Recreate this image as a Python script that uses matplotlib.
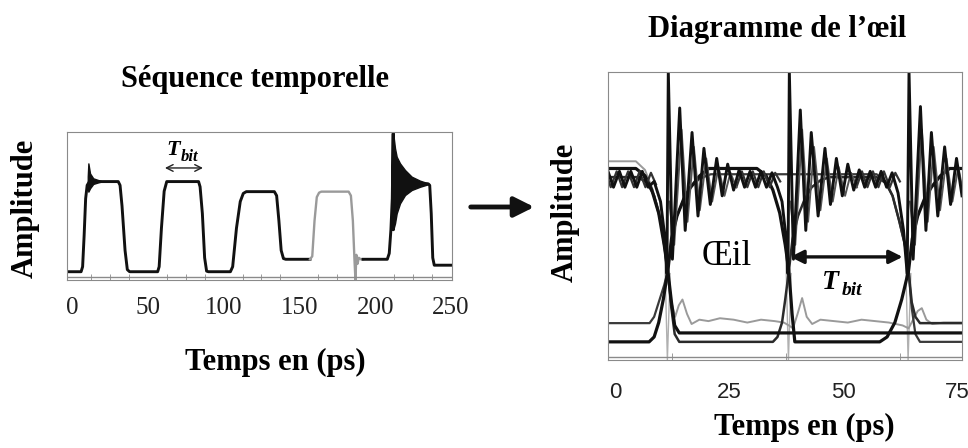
import numpy as np
import matplotlib
matplotlib.use("Agg")
import matplotlib.pyplot as plt
from matplotlib.ticker import FixedLocator, MultipleLocator

# ---------------- left panel: time sequence (ps, arbitrary amplitude 0..1)
seq_ticks = [0, 50, 100, 150, 200, 250]

seq_t = [-3.3, 6.0, 7.0, 8.0, 9.0, 10.0, 11.5, 30.5, 31.7, 33.0, 35.0, 36.5, 38.0,
         56.5, 57.5, 59.0, 60.8, 62.5, 83.5, 84.5, 86.0, 87.5, 88.8, 90.0,
         104.5, 106.0, 108.5, 111.0, 113.0, 115.0, 133.5, 135.0, 136.5, 138.0,
         139.5, 141.0, 157.0]
seq_amp = [0.056, 0.056, 0.09, 0.30, 0.55, 0.64, 0.665, 0.665, 0.64, 0.50, 0.20, 0.07, 0.056,
           0.056, 0.09, 0.35, 0.60, 0.665, 0.665, 0.63, 0.45, 0.15, 0.06, 0.056,
           0.056, 0.09, 0.35, 0.53, 0.585, 0.597, 0.597, 0.57, 0.40, 0.20,
           0.145, 0.14, 0.14]

seq_gray_t = [157.0, 158.5, 160.0, 161.5, 163.0, 164.5, 182.5, 184.0, 185.3, 186.3,
              187.0, 187.6, 188.4, 189.2, 190.5, 192.0]
seq_gray_amp = [0.14, 0.16, 0.40, 0.56, 0.59, 0.597, 0.597, 0.57, 0.40, 0.15,
                0.0, 0.17, 0.11, 0.15, 0.14, 0.14]

seq_end_t = [192.0, 208.0, 209.3, 210.4, 211.3, 211.9, 211.9, 213.1, 214.2, 216.4,
             219.7, 224.1, 229.6, 235.0, 236.0, 237.0, 238.0, 239.0, 250.7]
seq_end_amp = [0.14, 0.14, 0.18, 0.34, 0.55, 0.99, 0.34, 0.60, 0.62, 0.64,
               0.65, 0.65, 0.65, 0.65, 0.64, 0.45, 0.15, 0.10, 0.10]

# ringing envelopes (filled black)
ring1_t = [10.4, 10.8, 11.9, 14.0, 17.4, 19.5]
ring1_hi = [0.70, 0.788, 0.72, 0.687, 0.675, 0.668]
ring1_lo = [0.62, 0.597, 0.62, 0.649, 0.66, 0.665]
ring2_t = [211.9, 213.1, 214.2, 216.4, 219.7, 224.1, 229.6, 235.0]
ring2_hi = [0.991, 0.89, 0.833, 0.788, 0.743, 0.698, 0.671, 0.653]
ring2_lo = [0.338, 0.383, 0.45, 0.518, 0.574, 0.608, 0.63, 0.647]

# ---------------- right panel: eye diagram
eye_ticks = [0, 25, 50, 75]

eye1_t = [-1.5, 4.6, 6.6, 8.1, 9.6, 10.8, 11.6, 12.4, 13.1, 14.1, 76]
eye1_amp = [.665, .665, .64, .59, .51, .40, .31, .20, .12, .094, .094]

eye2_t = [-1.5, 7.5, 8.6, 9.6, 10.6, 11.6, 12.4, 13.6, 15.1, 16.6, 18.6, 20.6, 31.1,
          33.1, 34.6, 36.1, 37.3, 38.1, 38.8, 39.4, 58.0, 59.6, 61.3, 62.8, 64.3,
          65.1, 66.3, 67.8, 69.3, 71.3, 73.3, 76]
eye2_amp = [.063, .063, .08, .13, .21, .31, .42, .50, .56, .60, .64, .665, .665,
            .64, .59, .51, .40, .31, .16, .063, .063, .08, .13, .21, .31,
            .42, .50, .56, .60, .64, .665, .665]

eye3_t = [-1.5, 5.1, 7.1, 8.6, 10.1, 10.8, 11.6, 12.3, 13.1, 14.1, 34.6, 35.6, 36.6,
          37.3, 38.1, 38.9, 40.1, 41.6, 43.1, 45.1, 47.1, 57.3, 59.3, 60.8, 62.3,
          63.5, 64.3, 65.0, 65.8, 66.8, 76]
eye3_amp = [.635, .635, .615, .57, .48, .40, .31, .19, .09, .063, .063, .08, .13,
            .21, .31, .42, .50, .56, .60, .625, .635, .635, .615, .57, .48,
            .40, .31, .20, .15, .128, .128]

eye4_t = [-1.5, 7.6, 8.6, 9.8, 10.8, 11.6, 12.4, 13.6, 15.1, 16.6, 18.6, 21.0, 57.3,
          59.3, 60.8, 62.3, 63.5, 64.3, 65.0, 65.8, 66.8, 76]
eye4_amp = [.128, .128, .15, .21, .26, .31, .42, .50, .56, .60, .63, .645, .645,
            .62, .57, .48, .40, .31, .18, .09, .063, .063]

eye_gray_t = [-1.5, 4.6, 6.6, 8.1, 9.6, 10.8, 11.6, 12.4, 13.2, 14.0, 14.8, 15.8, 16.8,
              18.5, 20.5, 23, 26, 29, 32, 35, 37, 38.1, 39, 40, 41, 42, 43.2, 45, 48,
              51, 54, 57, 60, 63, 64.3, 65.3, 66.3, 67.2, 68.2, 69.5, 72, 76]
eye_gray_amp = [.69, .69, .66, .60, .52, .41, .31, .20, .15, .19, .21, .16, .125,
                .14, .135, .145, .14, .13, .14, .135, .13, .12, .11, .16, .215, .15, .125, .14, .135,
                .13, .14, .135, .13, .12, .11, .14, .17, .18, .14, .125, .13, .13]

ring_t = [-1.5, -0.3, 1.0, 2.2, 3.5, 4.8, 6.0, 7.3, 8.6, 10.0, 11.0, 11.4, 11.7, 12.6,
          14.2, 15.4, 16.9, 18.2, 19.5, 20.9, 22.3, 23.5, 24.7, 26.0, 27.2, 28.4, 29.6,
          30.8, 32.0, 33.2, 34.4, 35.6, 36.6, 37.5, 37.9, 38.2, 39.1, 40.6, 41.8, 43.0,
          44.5, 46.0, 47.2, 48.5, 49.8, 51.0, 52.3, 53.5, 54.7, 55.9, 57.1, 58.3, 59.5,
          60.7, 62.0, 63.2, 64.0, 64.4, 65.3, 66.9, 68.1, 69.3, 70.7, 72.2, 73.5, 74.8, 76.0]
ring_amp = [.655, .60, .655, .60, .655, .60, .655, .60, .62, .55, .42, .30, 1.0, .35,
            .875, .45, .79, .50, .735, .54, .70, .57, .68, .59, .66, .60, .655,
            .60, .655, .60, .65, .60, .55, .42, .30, 1.0, .35, .868, .45, .79,
            .50, .735, .54, .70, .57, .68, .59, .66, .60, .655, .60, .655, .60,
            .65, .58, .45, .30, 1.0, .35, .88, .45, .79, .50, .74, .54, .70, .57]

# second, weaker ringing trace riding in the upper band
ring2b_t = [11.9, 13.0, 14.6, 15.9, 17.3, 18.6, 20.0, 21.3, 22.7, 24.0, 25.3, 26.6, np.nan,
            38.4, 39.5, 41.0, 42.3, 43.6, 45.0, 46.4, 47.7, 49.0, 50.4, 51.7, 53.0, np.nan,
            64.6, 65.7, 67.2, 68.5, 69.8, 71.2, 72.6, 73.9, 75.2, 76.0]
ring2b_amp = [.55, .40, .80, .48, .74, .52, .70, .55, .67, .57, .65, .60, np.nan,
              .55, .40, .80, .48, .74, .52, .70, .55, .67, .57, .65, .60, np.nan,
              .55, .40, .80, .48, .74, .52, .70, .55, .67, .60]

zig_t = [-1.5, -0.9, 0.4, 1.6, 2.9, 4.2, 5.4, 6.7, 7.9, 9.0, np.nan,
         26.6, 27.8, 29.0, 30.2, 31.4, 32.6, 33.9, 35.1, 36.2, np.nan,
         52.9, 54.1, 55.3, 56.5, 57.7, 58.9, 60.2, 61.4, 62.4]
zig_amp = [.63, .60, .655, .60, .655, .60, .655, .60, .65, .61, np.nan,
           .60, .655, .60, .655, .60, .655, .60, .65, .62, np.nan,
           .60, .655, .60, .655, .60, .655, .60, .65, .62]

dip_t = [10.9, 11.5, 12.1, np.nan, 37.4, 38.0, 38.6, np.nan, 63.6, 64.2, 64.8]
dip_amp = [.38, .0, .30, np.nan, .38, .0, .30, np.nan, .38, .0, .30]

serif = "Liberation Serif"
spine_col = "#8a8a8a"

fig = plt.figure(figsize=(9.68, 4.48), dpi=100)

# ---------- left
ax1 = fig.add_axes([67 / 968, 1 - 280 / 448, 385 / 968, 148 / 448])
ax1.plot(seq_t, seq_amp, color="#111111", lw=2.1, solid_joinstyle="round")
ax1.plot(seq_gray_t, seq_gray_amp, color="#9a9a9a", lw=1.7, solid_joinstyle="round")
ax1.plot(seq_end_t, seq_end_amp, color="#111111", lw=2.1, solid_joinstyle="round")
ax1.fill_between(ring1_t, ring1_lo, ring1_hi, color="#111111", lw=1)
ax1.fill_between(ring2_t, ring2_lo, ring2_hi, color="#111111", lw=1)
ax1.axhline(0.018, color=spine_col, lw=1)
ax1.set_xlim(-3.3, 250.7)
ax1.set_ylim(0, 1)
ax1.xaxis.set_major_locator(FixedLocator(seq_ticks))
ax1.xaxis.set_minor_locator(MultipleLocator(12.5))
ax1.set_yticks([])
ax1.tick_params(axis="x", which="major", length=0, pad=12, labelsize=18)
ax1.tick_params(axis="x", which="minor", direction="in", length=4, color=spine_col)
for lab in ax1.get_xticklabels():
    lab.set_fontfamily(serif)
    lab.set_color("#222222")
for s in ax1.spines.values():
    s.set_color(spine_col)
ax1.annotate("", xy=(61.3, 0.757), xytext=(86.4, 0.757),
             arrowprops=dict(arrowstyle="<->", lw=1.0, color="#222222", mutation_scale=12,
                             shrinkA=0, shrinkB=0))
ax1.text(66.5, 0.88, "T", fontfamily=serif, fontweight="bold", fontstyle="italic",
         fontsize=16, ha="center", va="center")
ax1.annotate("bit", xy=(66.5, 0.88), xytext=(6, -5), textcoords="offset points",
             fontfamily=serif, fontweight="bold", fontstyle="italic", fontsize=12,
             ha="left", va="center")

# ---------- right
ax2 = fig.add_axes([608 / 968, 1 - 360 / 448, 354 / 968, 288 / 448])
ax2.plot(dip_t, dip_amp, color="#b0b0b0", lw=1.0)
ax2.plot(eye_gray_t, eye_gray_amp, color="#9a9a9a", lw=1.4, solid_joinstyle="round")
ax2.plot(eye4_t, eye4_amp, color="#3a3a3a", lw=1.6, solid_joinstyle="round")
ax2.plot(eye3_t, eye3_amp, color="#2a2a2a", lw=1.8, solid_joinstyle="round")
ax2.plot(eye2_t, eye2_amp, color="#111111", lw=2.3, solid_joinstyle="round")
ax2.plot(eye1_t, eye1_amp, color="#111111", lw=2.3, solid_joinstyle="round")
ax2.plot(zig_t, zig_amp, color="#333333", lw=1.6, solid_joinstyle="round")
ax2.plot(ring2b_t, ring2b_amp, color="#555555", lw=1.4, solid_joinstyle="round")
ax2.plot(ring_t, ring_amp, color="#111111", lw=2.1, solid_joinstyle="round")
ax2.axhline(0.01, color=spine_col, lw=1)
ax2.set_xlim(-1.5, 76)
ax2.set_ylim(0, 1)
ax2.xaxis.set_major_locator(FixedLocator(eye_ticks))
ax2.xaxis.set_minor_locator(MultipleLocator(12.5))
ax2.set_yticks([])
ax2.tick_params(axis="x", which="major", length=0, pad=16, labelsize=16)
ax2.tick_params(axis="x", which="minor", direction="in", length=5, color=spine_col)
for lab in ax2.get_xticklabels():
    lab.set_fontfamily("Liberation Sans")
    lab.set_color("#222222")
for s in ax2.spines.values():
    s.set_color(spine_col)
ax2.annotate("", xy=(38.4, 0.358), xytext=(63.0, 0.358),
             arrowprops=dict(arrowstyle="<|-|>", lw=2.4, color="#111111", mutation_scale=20,
                             shrinkA=0, shrinkB=0))
ax2.text(24.5, 0.36, "Œil", fontfamily=serif, fontsize=25, ha="center", va="center")
ax2.text(47.3, 0.27, "T", fontfamily=serif, fontweight="bold", fontstyle="italic",
         fontsize=20, ha="center", va="center")
ax2.annotate("bit", xy=(47.3, 0.27), xytext=(8, -6), textcoords="offset points",
             fontfamily=serif, fontweight="bold", fontstyle="italic", fontsize=14,
             ha="left", va="center")

# ---------- figure texts
bold = dict(fontfamily=serif, fontweight="bold", ha="center", va="center")
fig.text(255 / 968, 1 - 80 / 448, "Séquence temporelle", fontsize=22, **bold)
fig.text(777 / 968, 1 - 30 / 448, "Diagramme de l’œil", fontsize=22, **bold)
fig.text(275 / 968, 1 - 362 / 448, "Temps en (ps)", fontsize=22, **bold)
fig.text(804 / 968, 1 - 427 / 448, "Temps en (ps)", fontsize=22, **bold)
fig.text(25 / 968, 1 - 208 / 448, "Amplitude", fontsize=22, rotation=90, **bold)
fig.text(565 / 968, 1 - 212 / 448, "Amplitude", fontsize=22, rotation=90, **bold)

fig.patches.append(matplotlib.patches.FancyArrowPatch(
    (468 / 968, 1 - 207 / 448), (537 / 968, 1 - 207 / 448), transform=fig.transFigure,
    arrowstyle="-|>", mutation_scale=30, lw=3.5, color="#111111"))

fig.savefig("out.png", dpi=100)
